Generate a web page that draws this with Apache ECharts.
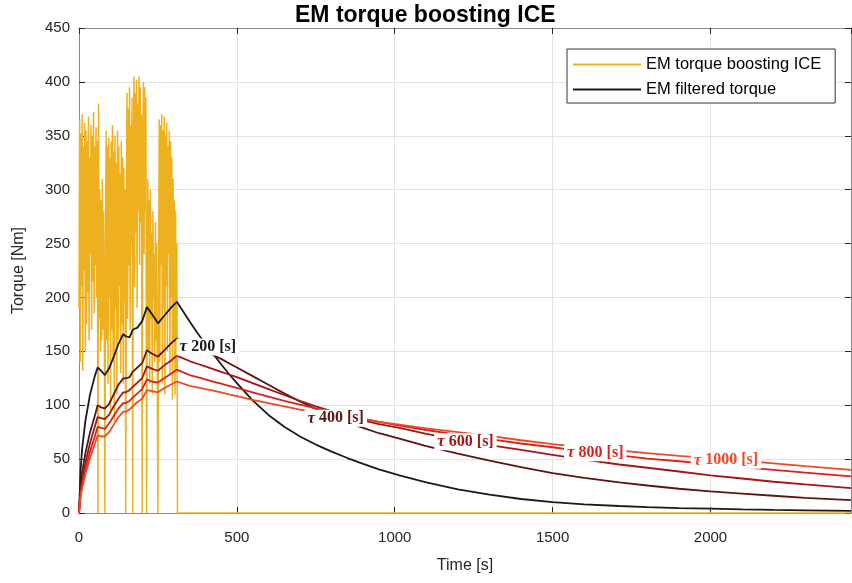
<!DOCTYPE html>
<html><head><meta charset="utf-8">
<script src="https://cdn.jsdelivr.net/npm/echarts@6/dist/echarts.min.js"></script>
<style>html,body{margin:0;padding:0;background:#fff}#c{width:852px;height:583px}</style>
</head><body><div id="c"></div>
<script>
// ---- raw signal: EM torque boosting ICE ----
const emTime = [
0,2,4,6,8,10,12,14,16,18,20,22,24,26,28,30,32,34,36,38,
40,42,44,46,48,50,52,54,56,58,60,62,64,66,68,70,72,74,76,78,
80,82,84,86,88,90,92,94,96,98,100,102,104,106,108,110,112,114,116,118,
120,122,124,126,128,130,132,134,136,138,140,142,144,146,148,150,152,154,156,158,
160,162,164,166,168,170,172,174,176,178,180,182,184,186,188,190,192,194,196,198,
200,202,204,206,208,210,212,214,216,218,220,222,224,226,228,230,232,234,236,238,
240,242,244,246,248,250,252,254,256,258,260,262,264,266,268,270,272,274,276,278,
280,282,284,286,288,290,292,294,296,298,300,302,304,306,308,310,312,2445];
const emTorque = [
190,365,140,352,210,370,132,340,225,362,150,355,175,345,205,368,160,330,240,360,
170,350,215,372,185,340,230,358,200,345,
0,
380,180,300,150,290,160,310,170,280,200,
0,
250,355,160,340,120,348,200,330,95,345,170,360,140,335,85,350,190,325,110,355,
160,340,210,315,130,345,175,330,120,320,195,300,
0,
260,390,180,375,230,395,170,360,250,385,
0,
300,405,210,390,260,402,190,380,280,405,230,395,270,370,
0,
330,400,240,395,280,385,
0,
200,310,150,290,120,300,180,260,110,280,200,240,140,270,160,250,120,
0,
200,365,140,360,230,370,120,355,190,368,110,350,210,362,150,340,240,355,130,345,
200,330,105,310,160,290,110,280,130,250,
0,0];

// ---- filtered torques ----
const filtTime = [0,5,10,20,35,50,59,70,82,95,110,125,140,148,160,170,185,200,215,230,
  250,270,290,310,330,350,375,400,425,450,475,500,550,600,650,700,750,800,850,900,
  950,1015,1100,1200,1300,1400,1500,1600,1711,1800,1900,2000,2100,2200,2300,2445];
const tau200  = [0,40,60,85,110,127,135,132,128,134,145,157,166,164,163,170,172,178,191,185,
  176,183,190,196,187,178,167,157,147.5,138,129,120.5,104.5,91,80,71,63.5,57,51,45.5,
  40.5,35,28.5,22,17,13,10,8,6.5,5.5,4.6,4,3.4,2.9,2.5,2];
const tau400  = [0,25,38,55,75,90,100,98,97,101,110,119,125,125,126,131,135,139,151,148,
  145,151,157,162,159,156,153,150,146.5,143,139,135,127,119,111,103.5,96.5,90,84,79,
  74,69,62,55,48.5,42.5,37,32.5,28.5,25.5,22.5,20,18,16,14,12];
const tau600  = [0,20,30,46,65,80,89,88,87,91,99,106,112,112,114,117,121,125,136,134,
  132,137,141,146,143.5,141,138.5,136,133.5,131,128.5,126,120.5,115,109.5,104,99,94.5,90,86,
  82.5,79,73.5,68,63,58.5,54,49.5,45,42,38.5,35,32,29,26.5,23];
const tau800  = [0,17,26,40,57,71,80,79,78,83,90,97,102,102,104,107,111,115,124,122,
  121,125,129,133,130.5,128,126,124,122,120,118,116,112,108,104,100.5,97,94,90.5,87.5,
  84.5,81,77,72.5,68.5,64.5,61,57,53.5,50.5,48,45.5,42.5,40,37.5,34];
const tau1000 = [0,15,23,36,51,64,72,71,71,75,82,89,94,94,96,99,103,106,114,113,
  112,116,119,122,120,118,116.5,115,113.5,112,110,108.5,105,102,99,96,93.5,91,89,87,
  84.5,82,78.5,75,71.5,67.5,64,61,58,55.5,53,51,48.5,46,43.5,40];

// ---- inline curve labels ----
const labelNum = ['200','400','600','800','1000'];
const labelTime = [408, 813, 1224, 1635, 2049];
const labelTorque = [154, 88, 66, 56, 49];

const xTicks = {min:0, max:2445, interval:500};
const yTicks = {min:0, max:450, interval:50};

const pair = (ts, vs) => ts.map((t, i) => [t, vs[i]]);
const filtColors = ['#1a1a1a', '#5c1414', '#a31616', '#d9221a', '#f04a24'];
const filtData = [tau200, tau400, tau600, tau800, tau1000];
const filtNames = ['EM filtered torque', 'tau 400', 'tau 600', 'tau 800', 'tau 1000'];

const sans = 'Liberation Sans, Arial, Helvetica, sans-serif';
const series = [{
  name: 'EM torque boosting ICE', type: 'line', data: pair(emTime, emTorque),
  showSymbol: false, symbol: 'none', sampling: null,
  lineStyle: {color: '#EDB120', width: 1.5}, itemStyle: {color: '#EDB120'}, z: 2
}];
filtData.forEach((d, i) => series.push({
  name: filtNames[i], type: 'line', data: pair(filtTime, d), showSymbol: false, symbol: 'none',
  lineStyle: {color: filtColors[i], width: 1.8}, itemStyle: {color: filtColors[i]}, z: 3 + i
}));
series.push({
  type: 'scatter', z: 20, silent: true, symbolSize: 1,
  itemStyle: {color: 'rgba(255,255,255,0)'},
  data: labelTime.map((t, i) => ({
    value: [t, labelTorque[i]],
    label: {
      show: true, position: 'inside', color: filtColors[i], opacity: 1,
      formatter: '{i|τ} ' + labelNum[i] + ' [s]',
      fontFamily: 'Liberation Serif, DejaVu Serif, serif', fontSize: 16, fontWeight: 'bold',
      backgroundColor: '#ffffff', padding: [0, 3],
      rich: {i: {fontStyle: 'italic', fontWeight: 'bold', fontFamily: 'Liberation Serif, serif', fontSize: 17, color: filtColors[i]}}
    }
  }))
});

const axisLineStyle = {color: '#8a8a8a', width: 1};
const tickStyle = {color: '#262626', width: 1};
const plain = v => String(v);
const option = {
  animation: false,
  backgroundColor: '#fff',
  title: {text: 'EM torque boosting ICE', left: 290, top: -1,
    textStyle: {fontFamily: sans, fontWeight: 'bold', fontSize: 23, color: '#000'}},
  legend: {
    data: [{name: 'EM torque boosting ICE', icon: 'rect'}, {name: 'EM filtered torque', icon: 'rect'}],
    orient: 'vertical', left: 567, top: 49, itemWidth: 68, itemHeight: 2, itemGap: 8,
    padding: [7, 14, 5, 6], borderColor: '#333', borderWidth: 1, backgroundColor: '#fff',
    textStyle: {fontFamily: sans, fontSize: 16.5, color: '#000'}
  },
  grid: {left: 79, right: 1, top: 28, bottom: 70, containLabel: false},
  xAxis: [{
    type: 'value', ...xTicks, position: 'bottom',
    axisLine: {show: true, onZero: false, lineStyle: axisLineStyle},
    axisTick: {show: true, inside: true, length: 6, lineStyle: tickStyle},
    axisLabel: {color: '#262626', fontSize: 15, margin: 17, fontFamily: sans, showMaxLabel: false, formatter: plain},
    splitLine: {show: true, lineStyle: {color: '#e3e3e3', width: 1}},
    name: 'Time [s]', nameLocation: 'middle', nameGap: 45,
    nameTextStyle: {fontFamily: sans, fontSize: 16, color: '#262626'}
  }, {
    type: 'value', ...xTicks, position: 'top',
    axisLine: {show: true, onZero: false, lineStyle: axisLineStyle},
    axisTick: {show: true, inside: true, length: 6, lineStyle: tickStyle},
    axisLabel: {show: false}, splitLine: {show: false}
  }],
  yAxis: [{
    type: 'value', ...yTicks, position: 'left',
    axisLine: {show: true, onZero: false, lineStyle: axisLineStyle},
    axisTick: {show: true, inside: true, length: 6, lineStyle: tickStyle},
    axisLabel: {color: '#262626', fontSize: 15, margin: 9, fontFamily: sans, formatter: plain},
    splitLine: {show: true, lineStyle: {color: '#e3e3e3', width: 1}},
    name: 'Torque [Nm]', nameLocation: 'middle', nameGap: 52,
    nameTextStyle: {fontFamily: sans, fontSize: 16, color: '#262626'}
  }, {
    type: 'value', ...yTicks, position: 'right',
    axisLine: {show: true, onZero: false, lineStyle: axisLineStyle},
    axisTick: {show: true, inside: true, length: 6, lineStyle: tickStyle},
    axisLabel: {show: false}, splitLine: {show: false}
  }],
  series: series
};
const chart = echarts.init(document.getElementById('c'));
chart.setOption(option);
</script></body></html>
